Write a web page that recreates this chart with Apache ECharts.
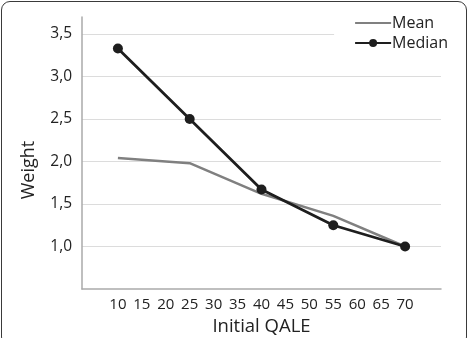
<!DOCTYPE html>
<html lang="en">
<head>
    <meta charset="UTF-8">
    <title>Weight vs Initial QALE</title>
    <style>
        html, body { margin: 0; padding: 0; background: #fff; }
        .frame {
            position: absolute; left: 1px; top: 1px;
            width: 466px; height: 345px;
            border: 1.5px solid #3a3a3a; border-radius: 9px;
            box-sizing: border-box;
        }
        #main { position: absolute; left: 0; top: 0; width: 471px; height: 338px; }
    </style>
    <script src="https://cdn.jsdelivr.net/npm/echarts@6/dist/echarts.min.js"></script>
</head>
<body>
<div class="frame"></div>
<div id="main"></div>
<script type="text/javascript">
    // 横轴类目（两端留空，与原图一致）
    var qale = ['', '10', '15', '20', '25', '30', '35', '40', '45', '50', '55', '60', '65', '70', ''];
    var meanData   = [null, 2.04, null, null, 1.98, null, null, 1.62, null, null, 1.36, null, null, 1.00, null];
    var medianData = [null, 3.33, null, null, 2.50, null, null, 1.67, null, null, 1.25, null, null, 1.00, null];

    var myChart = echarts.init(document.getElementById('main'));
    var font = '"Open Sans", sans-serif';
    var option = {
        animation: false,
        grid: { left: 82, right: 30, top: 17, bottom: 49, outerBoundsMode: 'none' },
        legend: {
            orient: 'vertical',
            right: 19,
            top: 13,
            itemWidth: 36,
            itemHeight: 10,
            itemGap: 4,
            backgroundColor: '#fff',
            padding: [2, 4, 2, 20],
            textStyle: { fontFamily: font, fontSize: 16, color: '#222', padding: [0, 0, 0, -4] },
            data: [
                { name: 'Mean', itemStyle: { color: 'transparent', borderWidth: 0 } },
                { name: 'Median' }
            ]
        },
        xAxis: {
            type: 'category',
            data: qale,
            boundaryGap: true,
            name: 'Initial QALE',
            nameLocation: 'middle',
            nameGap: 27,
            nameTextStyle: { fontFamily: font, fontSize: 18.5, color: '#222', verticalAlign: 'top' },
            axisLine: { lineStyle: { color: '#aaa', width: 1.5 } },
            axisTick: { show: false },
            axisLabel: { interval: 0, fontFamily: font, fontSize: 15, color: '#222', margin: 8 }
        },
        yAxis: {
            type: 'value',
            min: 0.5,
            max: 3.7,
            interval: 0.5,
            name: 'Weight',
            nameLocation: 'middle',
            nameGap: 44,
            nameTextStyle: { fontFamily: font, fontSize: 18, color: '#222', padding: [0, 34, 0, 0] },
            axisLine: { show: true, lineStyle: { color: '#aaa', width: 1.5 } },
            axisTick: { show: false },
            axisLabel: {
                showMinLabel: false,
                showMaxLabel: false,
                fontFamily: font, fontSize: 15.5, color: '#222', margin: 10,
                formatter: function (v) { return v.toFixed(1).replace('.', ','); }
            },
            splitLine: { showMinLine: false, showMaxLine: false, lineStyle: { color: '#dcdcdc', width: 1.2 } }
        },
        series: [{
            name: 'Mean',
            type: 'line',
            data: meanData,
            connectNulls: true,
            symbol: 'none',
            lineStyle: { color: '#808080', width: 2.5 },
            itemStyle: { color: '#808080' },
            z: 2
        }, {
            name: 'Median',
            type: 'line',
            data: medianData,
            connectNulls: true,
            symbol: 'circle',
            symbolSize: 10,
            lineStyle: { color: '#1e1e1e', width: 2.8 },
            itemStyle: { color: '#1e1e1e' },
            z: 3
        }]
    };
    myChart.setOption(option);
</script>
</body>
</html>
